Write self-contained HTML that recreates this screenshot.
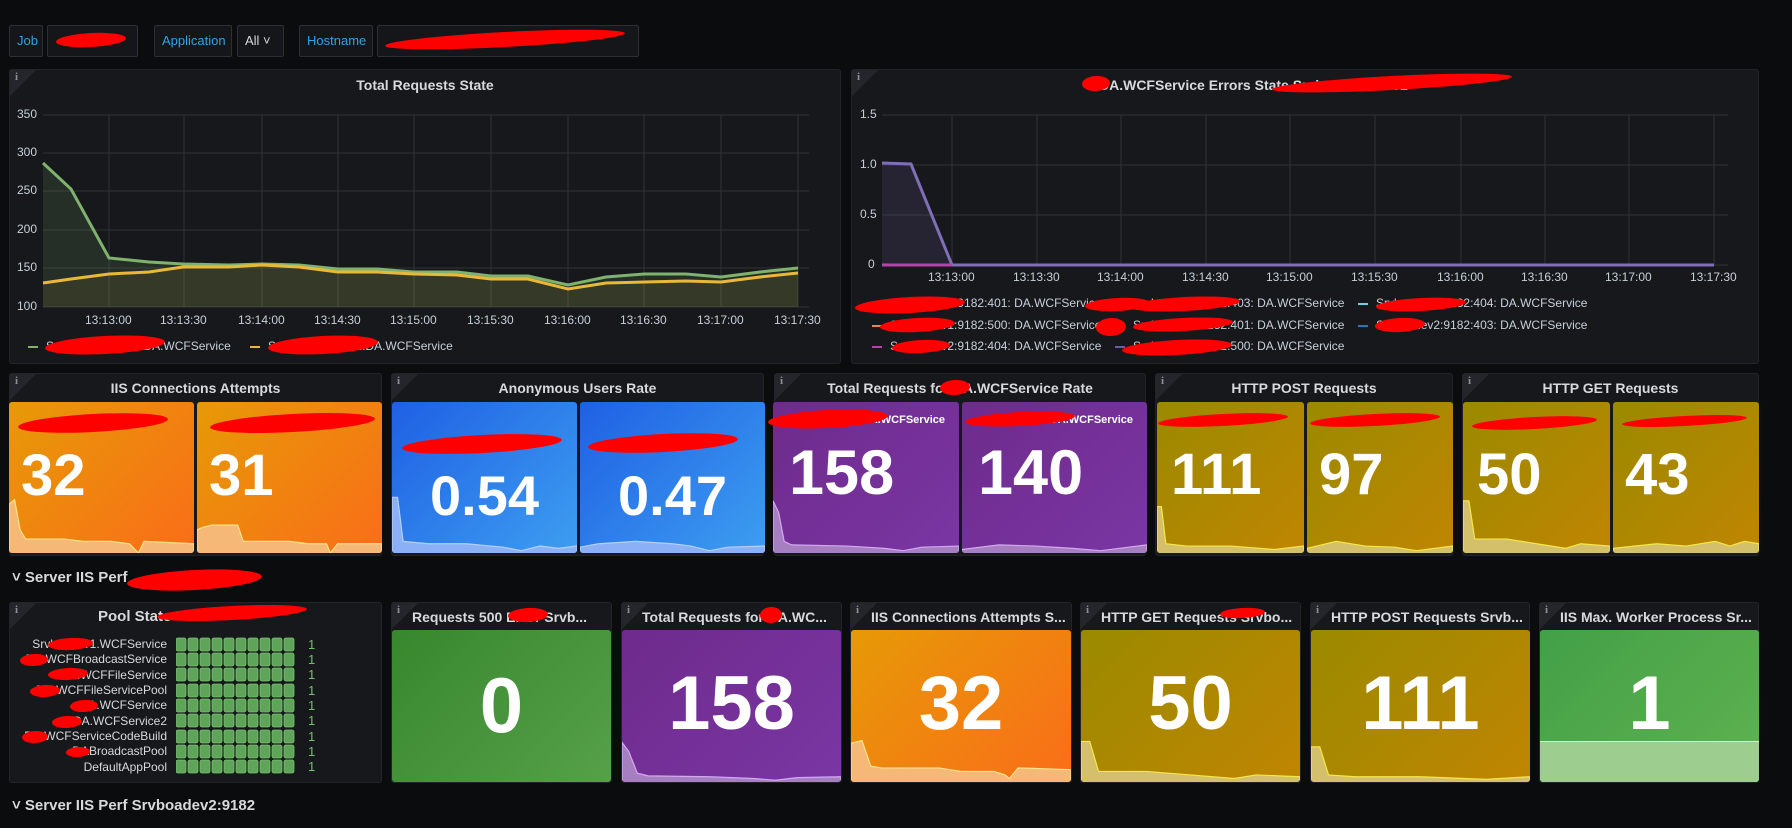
<!DOCTYPE html>
<html><head><meta charset="utf-8">
<style>
*{margin:0;padding:0;box-sizing:border-box}
body{width:1792px;height:828px;background:#0b0c0e;font-family:"Liberation Sans",sans-serif;color:#d8d9da;position:relative;overflow:hidden}
.a{position:absolute}
.p{position:absolute;background:#17181c;border:1px solid #222428;border-radius:3px}
.i{position:absolute;left:0;top:0;width:0;height:0;border-top:26px solid #24262b;border-right:26px solid transparent}
.i:after{content:"i";position:absolute;left:5px;top:-25px;font:bold 11px "Liberation Serif",serif;color:#8e9097}
.t{position:absolute;font-size:14px;font-weight:bold;color:#d8d9da;white-space:nowrap}
.tc{left:0;right:0;text-align:center}
.v{position:absolute;background:#141619;border:1px solid #2c2f34;border-radius:2px;height:32px;font-size:13px;line-height:30px;padding:0 7px}
.lb{color:#33a2e5}
.ax{position:absolute;font-size:12px;color:#c7d0d9;white-space:nowrap}
.tile{position:absolute;border-radius:3px;overflow:hidden}
.num{position:absolute;color:#fff;font-weight:bold;white-space:nowrap;line-height:1}
.red{position:absolute;background:#f00;border-radius:50%;transform:rotate(-3deg)}
.sp{position:absolute;left:0;bottom:0;width:100%}
.row{position:absolute;font-size:15px;font-weight:bold;color:#d8d9da}
.pn{position:absolute;right:0;font-size:12px;color:#d8d9da;text-align:right;white-space:nowrap}
.leg{position:absolute;font-size:12px;color:#c7d0d9;white-space:nowrap}
.dash{display:inline-block;width:10px;height:2px;vertical-align:middle;margin-right:8px}
</style></head><body>

<div class="v lb" style="left:9px;top:25px;width:34px">Job</div>
<div class="v" style="left:47px;top:25px;width:91px"></div>
<div class="red" style="left:56px;top:33px;width:70px;height:14px"></div>
<div class="v lb" style="left:154px;top:25px;width:78px">Application</div>
<div class="v" style="left:237px;top:25px;width:47px">All ˅</div>
<div class="v lb" style="left:299px;top:25px;width:74px">Hostname</div>
<div class="v" style="left:377px;top:25px;width:262px"></div>
<div class="red" style="left:385px;top:32px;width:240px;height:15px"></div>

<div class="p" style="left:9px;top:69px;width:832px;height:295px"><div class="i"></div><div class="t tc" style="top:7px">Total Requests State</div></div>
<div class="p" style="left:851px;top:69px;width:908px;height:295px"><div class="i"></div><div class="t" style="left:247px;top:7px">DA.WCFService Errors State Srvboadev1:9182</div></div>
<div class="red" style="left:1082px;top:76px;width:28px;height:15px"></div>
<div class="red" style="left:1272px;top:76px;width:240px;height:14px"></div>

<svg class="a" style="left:0;top:0" width="1792" height="400">
<g stroke="#303236" stroke-width="1">
<line x1="43" x2="809" y1="115" y2="115"/><line x1="43" x2="809" y1="153" y2="153"/><line x1="43" x2="809" y1="191" y2="191"/><line x1="43" x2="809" y1="230" y2="230"/><line x1="43" x2="809" y1="268" y2="268"/><line x1="43" x2="809" y1="307" y2="307"/>
<line x1="109" x2="109" y1="115" y2="307"/><line x1="184" x2="184" y1="115" y2="307"/><line x1="262" x2="262" y1="115" y2="307"/><line x1="338" x2="338" y1="115" y2="307"/><line x1="414" x2="414" y1="115" y2="307"/><line x1="491" x2="491" y1="115" y2="307"/><line x1="568" x2="568" y1="115" y2="307"/><line x1="644" x2="644" y1="115" y2="307"/><line x1="721" x2="721" y1="115" y2="307"/><line x1="798" x2="798" y1="115" y2="307"/>
<line x1="882" x2="1728" y1="115" y2="115"/><line x1="882" x2="1728" y1="165" y2="165"/><line x1="882" x2="1728" y1="215" y2="215"/><line x1="882" x2="1728" y1="265" y2="265"/>
<line x1="952" x2="952" y1="115" y2="265"/><line x1="1037" x2="1037" y1="115" y2="265"/><line x1="1121" x2="1121" y1="115" y2="265"/><line x1="1206" x2="1206" y1="115" y2="265"/><line x1="1290" x2="1290" y1="115" y2="265"/><line x1="1375" x2="1375" y1="115" y2="265"/><line x1="1461" x2="1461" y1="115" y2="265"/><line x1="1545" x2="1545" y1="115" y2="265"/><line x1="1629" x2="1629" y1="115" y2="265"/><line x1="1714" x2="1714" y1="115" y2="265"/>
</g>
<polygon fill="rgba(126,178,109,0.15)" points="43,307 43,163 71,189 109,258 149,262 183,264 229,265 262,264 299,265 338,269 377,269 414,272 457,272 491,276 528,276 568,285 606,277 644,274 686,274 721,277 760,272 798,268 798,307"/>
<polygon fill="rgba(234,184,57,0.08)" points="43,307 43,283 71,279 109,274 149,272 183,267 229,267 262,265 299,267 338,272 377,272 414,274 457,275 491,279 528,279 568,289 606,283 644,282 686,281 721,282 760,277 798,273 798,307"/>
<polyline fill="none" stroke="#7eb26d" stroke-width="3" points="43,163 71,189 109,258 149,262 183,264 229,265 262,264 299,265 338,269 377,269 414,272 457,272 491,276 528,276 568,285 606,277 644,274 686,274 721,277 760,272 798,268"/>
<polyline fill="none" stroke="#eab839" stroke-width="3" points="43,283 71,279 109,274 149,272 183,267 229,267 262,265 299,267 338,272 377,272 414,274 457,275 491,279 528,279 568,289 606,283 644,282 686,281 721,282 760,277 798,273"/>
<polygon fill="rgba(128,110,183,0.15)" points="882,265 882,163 911,164 952,265"/>
<polyline fill="none" stroke="#806eb7" stroke-width="3" points="882,163 911,164 952,265 1714,265"/>
<line x1="882" x2="952" y1="265" y2="265" stroke="#ba43a9" stroke-width="3"/>
</svg>
<div class="ax" style="left:17px;top:107px">350</div><div class="ax" style="left:17px;top:145px">300</div><div class="ax" style="left:17px;top:183px">250</div><div class="ax" style="left:17px;top:222px">200</div><div class="ax" style="left:17px;top:260px">150</div><div class="ax" style="left:17px;top:299px">100</div>
<div class="ax" style="left:85px;top:313px">13:13:00</div><div class="ax" style="left:160px;top:313px">13:13:30</div><div class="ax" style="left:238px;top:313px">13:14:00</div><div class="ax" style="left:314px;top:313px">13:14:30</div><div class="ax" style="left:390px;top:313px">13:15:00</div><div class="ax" style="left:467px;top:313px">13:15:30</div><div class="ax" style="left:544px;top:313px">13:16:00</div><div class="ax" style="left:620px;top:313px">13:16:30</div><div class="ax" style="left:697px;top:313px">13:17:00</div><div class="ax" style="left:774px;top:313px">13:17:30</div>
<div class="leg" style="left:28px;top:339px"><span class="dash" style="background:#7eb26d"></span>Srvboadev1:9182:DA.WCFService</div>
<div class="leg" style="left:250px;top:339px"><span class="dash" style="background:#eab839"></span>Srvboadev2:9182:DA.WCFService</div>
<div class="red" style="left:45px;top:336px;width:120px;height:18px"></div>
<div class="red" style="left:268px;top:336px;width:110px;height:18px"></div>
<div class="ax" style="left:860px;top:107px">1.5</div><div class="ax" style="left:860px;top:157px">1.0</div><div class="ax" style="left:860px;top:207px">0.5</div><div class="ax" style="left:868px;top:257px">0</div>
<div class="ax" style="left:928px;top:270px">13:13:00</div><div class="ax" style="left:1013px;top:270px">13:13:30</div><div class="ax" style="left:1097px;top:270px">13:14:00</div><div class="ax" style="left:1182px;top:270px">13:14:30</div><div class="ax" style="left:1266px;top:270px">13:15:00</div><div class="ax" style="left:1351px;top:270px">13:15:30</div><div class="ax" style="left:1437px;top:270px">13:16:00</div><div class="ax" style="left:1521px;top:270px">13:16:30</div><div class="ax" style="left:1605px;top:270px">13:17:00</div><div class="ax" style="left:1690px;top:270px">13:17:30</div>
<div class="leg" style="left:872px;top:296px"><span class="dash" style="background:#7eb26d"></span>Srvboadev1:9182:401: DA.WCFService</div>
<div class="leg" style="left:1115px;top:296px"><span class="dash" style="background:#eab839"></span>Srvboadev1:9182:403: DA.WCFService</div>
<div class="leg" style="left:1358px;top:296px"><span class="dash" style="background:#6ed0e0"></span>Srvboadev1:9182:404: DA.WCFService</div>
<div class="leg" style="left:872px;top:318px"><span class="dash" style="background:#ef843c"></span>Srvboadev1:9182:500: DA.WCFService</div>
<div class="leg" style="left:1115px;top:318px"><span class="dash" style="background:#e24d42"></span>Srvboadev2:9182:401: DA.WCFService</div>
<div class="leg" style="left:1358px;top:318px"><span class="dash" style="background:#1f78c1"></span>Srvboadev2:9182:403: DA.WCFService</div>
<div class="leg" style="left:872px;top:339px"><span class="dash" style="background:#ba43a9"></span>Srvboadev2:9182:404: DA.WCFService</div>
<div class="leg" style="left:1115px;top:339px"><span class="dash" style="background:#705da0"></span>Srvboadev2:9182:500: DA.WCFService</div>
<div class="red" style="left:855px;top:297px;width:110px;height:16px"></div><div class="red" style="left:1130px;top:297px;width:110px;height:14px"></div><div class="red" style="left:1085px;top:298px;width:65px;height:13px"></div><div class="red" style="left:1376px;top:298px;width:90px;height:13px"></div>
<div class="red" style="left:880px;top:318px;width:75px;height:14px"></div><div class="red" style="left:1133px;top:318px;width:100px;height:13px"></div><div class="red" style="left:1096px;top:318px;width:30px;height:18px"></div><div class="red" style="left:1375px;top:318px;width:50px;height:14px"></div>
<div class="red" style="left:892px;top:340px;width:58px;height:13px"></div><div class="red" style="left:1122px;top:340px;width:110px;height:15px"></div>

<div class="p" style="left:9px;top:373px;width:373px;height:183px"><div class="i"></div><div class="t tc" style="top:6px">IIS Connections Attempts</div></div>
<div class="p" style="left:391px;top:373px;width:373px;height:183px"><div class="i"></div><div class="t tc" style="top:6px">Anonymous Users Rate</div></div>
<div class="p" style="left:774px;top:373px;width:372px;height:183px"><div class="i"></div><div class="t tc" style="top:6px">Total Requests for DA.WCFService Rate</div></div>
<div class="red" style="left:940px;top:380px;width:30px;height:15px"></div>
<div class="p" style="left:1155px;top:373px;width:298px;height:183px"><div class="i"></div><div class="t tc" style="top:6px">HTTP POST Requests</div></div>
<div class="p" style="left:1462px;top:373px;width:297px;height:183px"><div class="i"></div><div class="t tc" style="top:6px">HTTP GET Requests</div></div>

<div class="tile" style="left:9px;top:402px;width:185px;height:151px;background:linear-gradient(135deg,#e69a06,#fa6d19)"><div class="num" style="left:12px;top:45px;font-size:58px">32</div>
<svg class="sp" height="58" viewBox="0 0 100 50" preserveAspectRatio="none"><polyline fill="#f5b877" stroke="#fbe38a" stroke-width="1.2" vector-effect="non-scaling-stroke" points="0,50 0,8 3,4 6,30 9,38 30,38 40,40 55,40 65,42 70,50 73,40 100,42 100,50"/></svg></div>
<div class="tile" style="left:197px;top:402px;width:185px;height:151px;background:linear-gradient(135deg,#e69a06,#fa6d19)"><div class="num" style="left:12px;top:45px;font-size:58px">31</div>
<svg class="sp" height="58" viewBox="0 0 100 50" preserveAspectRatio="none"><polyline fill="#f5b877" stroke="#fbe38a" stroke-width="1.2" vector-effect="non-scaling-stroke" points="0,50 0,30 3,28 8,26 22,26 25,40 50,40 60,42 70,42 72,50 76,42 100,42 100,50"/></svg></div>
<div class="red" style="left:18px;top:414px;width:150px;height:18px"></div><div class="red" style="left:210px;top:414px;width:165px;height:18px"></div>

<div class="tile" style="left:392px;top:402px;width:185px;height:151px;background:linear-gradient(135deg,#1f60e4,#3d9ef0)"><div class="num" style="left:0;right:0;text-align:center;top:66px;font-size:56px">0.54</div>
<svg class="sp" height="58" viewBox="0 0 100 50" preserveAspectRatio="none"><polyline fill="#8bb0f5" stroke="#b5cffb" stroke-width="1.2" vector-effect="non-scaling-stroke" points="0,50 0,2 3,2 6,40 20,42 40,42 60,45 70,48 80,44 90,46 100,44 100,50"/></svg></div>
<div class="tile" style="left:580px;top:402px;width:185px;height:151px;background:linear-gradient(135deg,#1f60e4,#3d9ef0)"><div class="num" style="left:0;right:0;text-align:center;top:66px;font-size:56px">0.47</div>
<svg class="sp" height="58" viewBox="0 0 100 50" preserveAspectRatio="none"><polyline fill="#8bb0f5" stroke="#b5cffb" stroke-width="1.2" vector-effect="non-scaling-stroke" points="0,50 0,45 10,42 30,40 50,42 60,44 70,48 80,45 100,44 100,50"/></svg></div>
<div class="red" style="left:402px;top:435px;width:160px;height:18px"></div><div class="red" style="left:588px;top:434px;width:150px;height:18px"></div>

<div class="tile" style="left:773px;top:402px;width:186px;height:151px;background:linear-gradient(135deg,#6e2b8c,#7a36a3)"><div class="num" style="left:16px;top:40px;font-size:63px">158</div><div class="a" style="right:14px;top:12px;font-size:11px;font-weight:bold;color:#fff">DA.WCFService</div>
<svg class="sp" height="58" viewBox="0 0 100 50" preserveAspectRatio="none"><polyline fill="#a67fc1" stroke="#d5a8f0" stroke-width="1.2" vector-effect="non-scaling-stroke" points="0,50 0,5 3,15 6,40 10,43 40,44 60,46 70,48 80,45 100,44 100,50"/></svg></div>
<div class="tile" style="left:962px;top:402px;width:185px;height:151px;background:linear-gradient(135deg,#6e2b8c,#7a36a3)"><div class="num" style="left:16px;top:40px;font-size:63px">140</div><div class="a" style="right:14px;top:12px;font-size:11px;font-weight:bold;color:#fff">DA.WCFService</div>
<svg class="sp" height="58" viewBox="0 0 100 50" preserveAspectRatio="none"><polyline fill="#a67fc1" stroke="#d5a8f0" stroke-width="1.2" vector-effect="non-scaling-stroke" points="0,50 0,47 20,43 40,44 60,46 75,48 90,45 100,43 100,50"/></svg></div>
<div class="red" style="left:768px;top:410px;width:120px;height:18px"></div><div class="red" style="left:965px;top:412px;width:110px;height:14px"></div>

<div class="tile" style="left:1157px;top:402px;width:147px;height:151px;background:linear-gradient(135deg,#9a8a00,#c08502)"><div class="num" style="left:14px;top:44px;font-size:58px">111</div>
<svg class="sp" height="58" viewBox="0 0 100 50" preserveAspectRatio="none"><polyline fill="#d4c06a" stroke="#f5e74a" stroke-width="1.2" vector-effect="non-scaling-stroke" points="0,50 0,10 3,10 6,42 20,44 50,44 70,46 80,47 100,44 100,50"/></svg></div>
<div class="tile" style="left:1307px;top:402px;width:146px;height:151px;background:linear-gradient(135deg,#9a8a00,#c08502)"><div class="num" style="left:12px;top:44px;font-size:58px">97</div>
<svg class="sp" height="58" viewBox="0 0 100 50" preserveAspectRatio="none"><polyline fill="#d4c06a" stroke="#f5e74a" stroke-width="1.2" vector-effect="non-scaling-stroke" points="0,50 0,46 20,40 40,44 60,45 75,48 100,44 100,50"/></svg></div>
<div class="tile" style="left:1463px;top:402px;width:147px;height:151px;background:linear-gradient(135deg,#9a8a00,#c08502)"><div class="num" style="left:14px;top:44px;font-size:58px">50</div>
<svg class="sp" height="58" viewBox="0 0 100 50" preserveAspectRatio="none"><polyline fill="#d4c06a" stroke="#f5e74a" stroke-width="1.2" vector-effect="non-scaling-stroke" points="0,50 0,5 4,5 8,38 30,38 50,42 70,46 80,42 100,44 100,50"/></svg></div>
<div class="tile" style="left:1613px;top:402px;width:146px;height:151px;background:linear-gradient(135deg,#9a8a00,#c08502)"><div class="num" style="left:12px;top:44px;font-size:58px">43</div>
<svg class="sp" height="58" viewBox="0 0 100 50" preserveAspectRatio="none"><polyline fill="#d4c06a" stroke="#f5e74a" stroke-width="1.2" vector-effect="non-scaling-stroke" points="0,50 0,46 30,42 50,44 70,40 80,44 90,40 100,42 100,50"/></svg></div>
<div class="red" style="left:1158px;top:414px;width:130px;height:12px"></div><div class="red" style="left:1310px;top:414px;width:130px;height:12px"></div><div class="red" style="left:1472px;top:417px;width:125px;height:12px"></div><div class="red" style="left:1622px;top:416px;width:125px;height:10px"></div>

<div class="row" style="left:12px;top:569px">˅ Server IIS Perf</div>
<div class="red" style="left:127px;top:570px;width:135px;height:20px"></div>

<div class="p" style="left:9px;top:602px;width:373px;height:181px"><div class="i"></div><div class="t" style="left:88px;top:5px;font-size:15px">Pool State</div></div>
<div class="red" style="left:157px;top:606px;width:150px;height:14px"></div>
<div class="a" style="left:0;top:0;width:167px">
<div class="pn" style="top:637px">Srvboadev1.WCFService</div>
<div class="pn" style="top:652px">DA.WCFBroadcastService</div>
<div class="pn" style="top:668px">DA.WCFFileService</div>
<div class="pn" style="top:683px">DA.WCFFileServicePool</div>
<div class="pn" style="top:698px">DA.WCFService</div>
<div class="pn" style="top:714px">DA.WCFService2</div>
<div class="pn" style="top:729px">DA.WCFServiceCodeBuild</div>
<div class="pn" style="top:744px">DABroadcastPool</div>
<div class="pn" style="top:760px">DefaultAppPool</div>
</div>
<div class="red" style="left:48px;top:638px;width:45px;height:12px"></div><div class="red" style="left:20px;top:654px;width:28px;height:12px"></div><div class="red" style="left:48px;top:668px;width:40px;height:12px"></div><div class="red" style="left:30px;top:685px;width:30px;height:12px"></div><div class="red" style="left:70px;top:700px;width:28px;height:12px"></div><div class="red" style="left:52px;top:716px;width:30px;height:12px"></div><div class="red" style="left:22px;top:731px;width:26px;height:12px"></div><div class="red" style="left:66px;top:747px;width:24px;height:10px"></div>
<svg class="a" style="left:176px;top:637px" width="150" height="140">
<defs><g id="r"><rect x="0" y="0" width="10" height="13" rx="2"/><rect x="12" y="0" width="10" height="13" rx="2"/><rect x="24" y="0" width="10" height="13" rx="2"/><rect x="36" y="0" width="10" height="13" rx="2"/><rect x="48" y="0" width="10" height="13" rx="2"/><rect x="60" y="0" width="10" height="13" rx="2"/><rect x="72" y="0" width="10" height="13" rx="2"/><rect x="84" y="0" width="10" height="13" rx="2"/><rect x="96" y="0" width="10" height="13" rx="2"/><rect x="108" y="0" width="10" height="13" rx="2"/></g></defs>
<g fill="#5ea559" stroke="#7cc070" stroke-width="0.8">
<use href="#r" y="1"/><use href="#r" y="16"/><use href="#r" y="31"/><use href="#r" y="47"/><use href="#r" y="62"/><use href="#r" y="77"/><use href="#r" y="93"/><use href="#r" y="108"/><use href="#r" y="123"/></g>
<g fill="#73bf69" font-size="13" font-family="Liberation Sans,sans-serif"><text x="132" y="12">1</text><text x="132" y="27">1</text><text x="132" y="42">1</text><text x="132" y="58">1</text><text x="132" y="73">1</text><text x="132" y="88">1</text><text x="132" y="104">1</text><text x="132" y="119">1</text><text x="132" y="134">1</text></g>
</svg>

<div class="p" style="left:391px;top:602px;width:221px;height:181px"><div class="i"></div><div class="t" style="left:20px;top:6px;font-size:14px">Requests 500 Error Srvb...</div></div>
<div class="red" style="left:508px;top:608px;width:40px;height:14px"></div>
<div class="p" style="left:621px;top:602px;width:221px;height:181px"><div class="i"></div><div class="t" style="left:20px;top:6px;font-size:14px">Total Requests for DA.WC...</div></div>
<div class="red" style="left:760px;top:607px;width:22px;height:16px"></div>
<div class="p" style="left:850px;top:602px;width:222px;height:181px"><div class="i"></div><div class="t" style="left:20px;top:6px;font-size:14px">IIS Connections Attempts S...</div></div>
<div class="p" style="left:1080px;top:602px;width:221px;height:181px"><div class="i"></div><div class="t" style="left:20px;top:6px;font-size:14px">HTTP GET Requests Srvbo...</div></div>
<div class="red" style="left:1220px;top:608px;width:45px;height:10px"></div>
<div class="p" style="left:1310px;top:602px;width:220px;height:181px"><div class="i"></div><div class="t" style="left:20px;top:6px;font-size:14px">HTTP POST Requests Srvb...</div></div>
<div class="p" style="left:1539px;top:602px;width:220px;height:181px"><div class="i"></div><div class="t" style="left:20px;top:6px;font-size:14px">IIS Max. Worker Process Sr...</div></div>

<div class="tile" style="left:392px;top:630px;width:219px;height:152px;background:linear-gradient(135deg,#37872d,#56a04a)"><div class="num" style="left:0;right:0;text-align:center;top:36px;font-size:78px">0</div></div>
<div class="tile" style="left:622px;top:630px;width:219px;height:152px;background:linear-gradient(135deg,#6e2b8c,#7a36a3)"><div class="num" style="left:0;right:0;text-align:center;top:36px;font-size:76px">158</div>
<svg class="sp" height="44" viewBox="0 0 100 50" preserveAspectRatio="none"><polyline fill="#a67fc1" stroke="#d5a8f0" stroke-width="1.2" vector-effect="non-scaling-stroke" points="0,50 0,5 3,15 7,40 12,43 40,44 60,46 70,48 80,45 100,44 100,50"/></svg></div>
<div class="tile" style="left:851px;top:630px;width:220px;height:152px;background:linear-gradient(135deg,#e69a06,#fa6d19)"><div class="num" style="left:0;right:0;text-align:center;top:36px;font-size:76px">32</div>
<svg class="sp" height="44" viewBox="0 0 100 50" preserveAspectRatio="none"><polyline fill="#f5b877" stroke="#fbe38a" stroke-width="1.2" vector-effect="non-scaling-stroke" points="0,50 0,6 5,3 9,32 14,34 40,34 50,38 65,38 70,42 72,46 76,34 100,36 100,50"/></svg></div>
<div class="tile" style="left:1081px;top:630px;width:219px;height:152px;background:linear-gradient(135deg,#9a8a00,#c08502)"><div class="num" style="left:0;right:0;text-align:center;top:36px;font-size:76px">50</div>
<svg class="sp" height="44" viewBox="0 0 100 50" preserveAspectRatio="none"><polyline fill="#d4c06a" stroke="#f5e74a" stroke-width="1.2" vector-effect="non-scaling-stroke" points="0,50 0,4 4,4 8,38 30,38 50,42 70,46 80,42 100,44 100,50"/></svg></div>
<div class="tile" style="left:1311px;top:630px;width:219px;height:152px;background:linear-gradient(135deg,#9a8a00,#c08502)"><div class="num" style="left:0;right:0;text-align:center;top:36px;font-size:76px">111</div>
<svg class="sp" height="44" viewBox="0 0 100 50" preserveAspectRatio="none"><polyline fill="#d4c06a" stroke="#f5e74a" stroke-width="1.2" vector-effect="non-scaling-stroke" points="0,50 0,10 4,10 8,42 20,44 50,44 70,46 80,47 100,44 100,50"/></svg></div>
<div class="tile" style="left:1540px;top:630px;width:219px;height:152px;background:linear-gradient(135deg,#43a047,#5fb250)"><div class="num" style="left:0;right:0;text-align:center;top:36px;font-size:76px">1</div>
<div class="a" style="left:0;right:0;bottom:0;height:41px;background:#9dcd8f;border-top:1px solid #d9f3cf"></div></div>

<div class="row" style="left:12px;top:797px">˅ Server IIS Perf Srvboadev2:9182</div>
</body></html>
